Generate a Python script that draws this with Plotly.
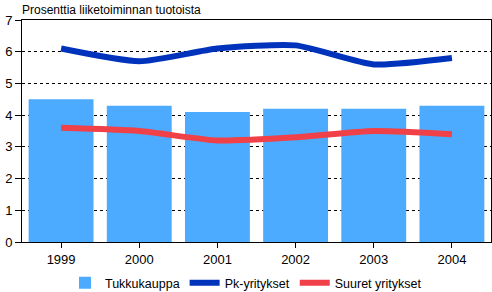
import plotly.graph_objects as go

years = ["1999", "2000", "2001", "2002", "2003", "2004"]
tukkukauppa = [4.5, 4.3, 4.1, 4.2, 4.2, 4.3]
pk_yritykset = [6.1, 5.7, 6.1, 6.2, 5.6, 5.8]
suuret_yritykset = [3.6, 3.5, 3.2, 3.3, 3.5, 3.4]
y_ticks = [0, 1, 2, 3, 4, 5, 6, 7]

fig = go.Figure()
fig.add_trace(go.Bar(x=years, y=tukkukauppa, name="Tukkukauppa",
                     marker=dict(color="#4DABFF", line=dict(width=0))))
fig.add_trace(go.Scatter(x=years, y=pk_yritykset, name="Pk-yritykset", mode="lines",
                         line=dict(color="#0033BB", width=6, shape="spline", smoothing=0.6)))
fig.add_trace(go.Scatter(x=years, y=suuret_yritykset, name="Suuret yritykset", mode="lines",
                         line=dict(color="#F04048", width=6, shape="spline", smoothing=0.6)))

fig.update_layout(
    width=492, height=292,
    margin=dict(l=22, r=1, t=20, b=50, autoexpand=False),
    paper_bgcolor="white", plot_bgcolor="white",
    font=dict(family="Liberation Sans, Arial, sans-serif", size=12.5, color="black"),
    bargap=0.17,
    showlegend=True,
    legend=dict(orientation="h", x=0.5, xref="container", xanchor="center",
                y=0.03, yref="container", yanchor="middle",
                font=dict(size=12.5), itemwidth=30, tracegroupgap=0,
                bgcolor="rgba(0,0,0,0)"),
    title=dict(text="Prosenttia liiketoiminnan tuotoista", xref="container", yref="container",
               x=22 / 492, y=1 - 10 / 292, xanchor="left", yanchor="middle",
               pad=dict(l=0, r=0, t=0, b=0), font=dict(size=12)),
)
fig.update_xaxes(type="category", showline=True, linecolor="black", linewidth=1, mirror=True,
                 ticks="outside", ticklen=5, tickcolor="black", showgrid=False,
                 tickfont=dict(size=13))
fig.update_yaxes(range=[0, 7], tickvals=y_ticks, showline=True, linecolor="black", linewidth=1,
                 mirror=True, ticks="outside", ticklen=6, tickcolor="black",
                 showgrid=True, gridcolor="black", griddash="3px,3px", gridwidth=1,
                 zeroline=False, tickfont=dict(size=13))

fig.write_html("out.html")
